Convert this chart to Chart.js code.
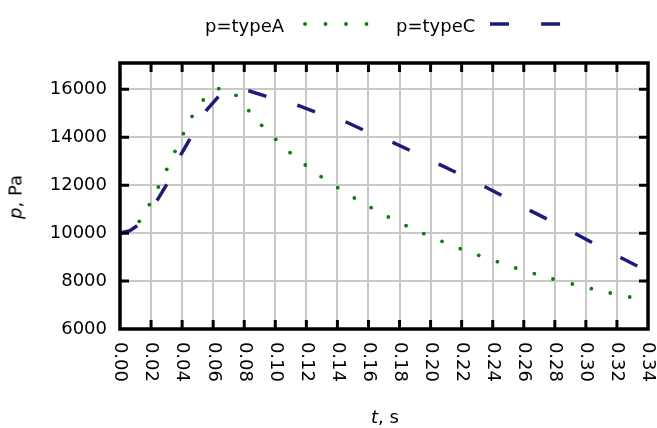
<!DOCTYPE html>
<html>
<head>
<meta charset="utf-8">
<script src="https://cdn.jsdelivr.net/npm/chart.js@4.4.0/dist/chart.umd.min.js"></script>
<style>
  body { margin: 0; background: #fff; font-family: 'DejaVu Sans', sans-serif; }
  #wrap { position: relative; width: 657px; height: 428px; }
  .lbl { position: absolute; font-size: 18px; color: #000; white-space: nowrap; line-height: 21px; }
  canvas.sample { position: absolute; }
</style>
</head>
<body>
<div id="wrap">
  <canvas id="myChart" width="657" height="428"></canvas>
  <span class="lbl" style="left:205px;top:15px">p=typeA</span>
  <canvas class="sample" id="legA" width="80" height="10" style="left:295px;top:19px"></canvas>
  <span class="lbl" style="left:396px;top:15px">p=typeC</span>
  <canvas class="sample" id="legC" width="80" height="10" style="left:485px;top:19px"></canvas>
  <div class="lbl" style="left:285px;top:406px;width:200px;text-align:center"><i>t</i>, s</div>
  <div class="lbl" style="left:15px;top:197px;transform:translate(-50%,-50%) rotate(-90deg)"><i>p</i>, Pa</div>
</div>
<script>
// typeA - dotted curve
var tA = [0.0124, 0.0189, 0.0247, 0.0301, 0.0354, 0.0408, 0.0464, 0.0536, 0.0636, 0.0747,
          0.0829, 0.0912, 0.1003, 0.1095, 0.1193, 0.1295, 0.1402, 0.1509, 0.1617, 0.1728,
          0.1842, 0.1956, 0.2074, 0.2191, 0.2310, 0.2430, 0.2548, 0.2668, 0.2788, 0.2913,
          0.3035, 0.3157, 0.3282];
var pA = [10494, 11187, 11926, 12664, 13415, 14150, 14876, 15556, 16028, 15752,
          15110, 14500, 13916, 13357, 12844, 12355, 11896, 11467, 11062, 10674,
          10311, 9977, 9660, 9351, 9075, 8808, 8546, 8308, 8087, 7878,
          7682, 7502, 7335];

// typeC - dashed curve
var tC = [0, 0.0064, 0.0118, 0.0243, 0.0305, 0.0393, 0.0455, 0.0558, 0.0639, 0.0734,
          0.0833, 0.0949, 0.1151, 0.1262, 0.1460, 0.1571, 0.1760, 0.1872, 0.2056, 0.2168,
          0.2350, 0.2462, 0.2642, 0.2754, 0.2934, 0.3041, 0.3226, 0.3331];
var pC = [10000, 10102, 10340, 11412, 12080, 13290, 13983, 15139, 15736, 16036,
          15932, 15694, 15318, 15043, 14626, 14292, 13774, 13440, 12873, 12522,
          11938, 11563, 10937, 10578, 9977, 9601, 8975, 8629];

var xTicks = [0, 0.02, 0.04, 0.06, 0.08, 0.10, 0.12, 0.14, 0.16, 0.18,
              0.20, 0.22, 0.24, 0.26, 0.28, 0.30, 0.32, 0.34];
var yTicks = [6000, 8000, 10000, 12000, 14000, 16000];
var xMin = 0, xMax = 0.34;
var yMin = 6000, yMax = 17100;

var colA = '#0f7a0f';
var colC = '#1c1c78';
var dashC = [19, 32.1];

function pts(xs, ys) {
  return xs.map(function (x, i) { return { x: x, y: ys[i] }; });
}

var frame = {
  id: 'frame',
  afterDatasetsDraw: function (chart) {
    var ctx = chart.ctx, a = chart.chartArea;
    var xs = chart.scales.x, ys = chart.scales.y;
    ctx.save();
    ctx.strokeStyle = '#000';
    ctx.lineWidth = 3;
    ctx.beginPath();
    xs.ticks.forEach(function (t) {
      var px = xs.getPixelForValue(t.value);
      if (px <= a.left + 2 || px >= a.right - 2) return;
      ctx.moveTo(px, a.bottom); ctx.lineTo(px, a.bottom - 9);
      ctx.moveTo(px, a.top); ctx.lineTo(px, a.top + 9);
    });
    ys.ticks.forEach(function (t) {
      var py = ys.getPixelForValue(t.value);
      if (py >= a.bottom - 2 || py <= a.top + 2) return;
      ctx.moveTo(a.left, py); ctx.lineTo(a.left + 9, py);
      ctx.moveTo(a.right, py); ctx.lineTo(a.right - 9, py);
    });
    ctx.stroke();
    ctx.lineWidth = 3.5;
    ctx.strokeRect(a.left, a.top, a.right - a.left, a.bottom - a.top);
    ctx.restore();
  }
};

var tickFont = { family: 'DejaVu Sans', size: 18 };

var myChart = new Chart(document.getElementById('myChart'), {
  type: 'scatter',
  data: {
    datasets: [{
      label: 'p=typeA',
      data: pts(tA, pA),
      showLine: false,
      pointRadius: 1.9,
      pointBorderWidth: 0,
      pointBackgroundColor: colA,
      backgroundColor: colA
    }, {
      label: 'p=typeC',
      data: pts(tC, pC),
      showLine: true,
      borderColor: colC,
      borderWidth: 3.5,
      borderDash: dashC,
      borderCapStyle: 'butt',
      tension: 0,
      pointRadius: 0,
      fill: false
    }]
  },
  options: {
    responsive: false,
    animation: false,
    devicePixelRatio: 1,
    layout: { padding: { top: 63, right: 9, left: 0, bottom: 0 } },
    plugins: { legend: { display: false }, tooltip: { enabled: false } },
    scales: {
      x: {
        type: 'linear',
        min: xMin, max: xMax,
        border: { display: false },
        grid: { color: '#c8c8c8', lineWidth: 2, drawTicks: false },
        ticks: {
          minRotation: -90, maxRotation: -90,
          padding: 53,
          color: '#000',
          font: tickFont,
          callback: function (v) { return Number(v).toFixed(2); }
        },
        afterBuildTicks: function (s) { s.ticks = xTicks.map(function (v) { return { value: v }; }); },
        afterFit: function (s) { s.height = 99; s.paddingLeft = 0; s.paddingRight = 0; }
      },
      y: {
        min: yMin, max: yMax,
        border: { display: false },
        grid: { color: '#c8c8c8', lineWidth: 2, drawTicks: false },
        ticks: {
          padding: 13,
          color: '#000',
          font: tickFont,
          callback: function (v) { return String(v); }
        },
        afterBuildTicks: function (s) { s.ticks = yTicks.map(function (v) { return { value: v }; }); },
        afterFit: function (s) { s.width = 120; s.paddingTop = 0; s.paddingBottom = 0; }
      }
    }
  },
  plugins: [frame]
});

// legend samples
var la = document.getElementById('legA').getContext('2d');
la.fillStyle = colA;
[10, 30.5, 51, 71.5].forEach(function (x) {
  la.beginPath(); la.arc(x, 5, 1.9, 0, Math.PI * 2); la.fill();
});
var lc = document.getElementById('legC').getContext('2d');
lc.strokeStyle = colC;
lc.lineWidth = 3.5;
lc.setLineDash(dashC);
lc.beginPath(); lc.moveTo(5, 5); lc.lineTo(76, 5); lc.stroke();
</script>
</body>
</html>
